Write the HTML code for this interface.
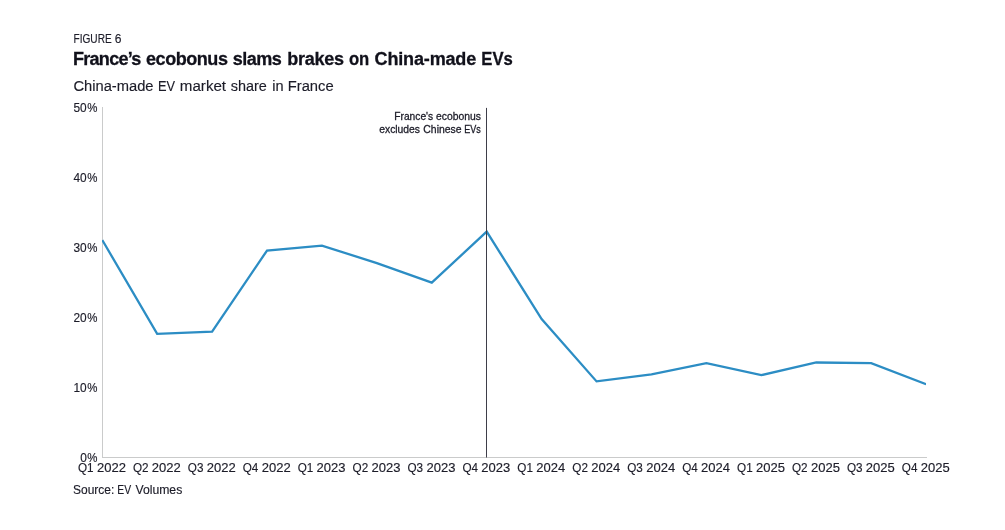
<!DOCTYPE html>
<html lang="en">
<head>
<meta charset="utf-8">
<title>France's ecobonus slams brakes on China-made EVs</title>
<style>
html,body{margin:0;padding:0;background:#fff;}
body{width:1005px;height:530px;overflow:hidden;position:relative;font-family:"Liberation Sans",sans-serif;}
svg{position:absolute;left:0;top:0;display:block;}
text{font-family:"Liberation Sans",sans-serif;fill:#1c1c28;stroke:#1c1c28;stroke-width:0.15px;}
text.a{stroke-width:0.3px;}
text.b{fill:#11111b;stroke:#11111b;stroke-width:0.3px;}
</style>
</head>
<body>
<svg width="1005" height="530" viewBox="0 0 1005 530">
<text y="43" font-size="12"><tspan x="73.47" textLength="38.23" lengthAdjust="spacingAndGlyphs">FIGURE</tspan> <tspan x="114.72" textLength="6.73" lengthAdjust="spacingAndGlyphs">6</tspan></text>
<text y="64.7" font-size="19.2" font-weight="bold" class="b"><tspan x="73.03" letter-spacing="-0.794" textLength="67.59" lengthAdjust="spacingAndGlyphs">France’s</tspan> <tspan x="146.07" letter-spacing="-0.513" textLength="81.38" lengthAdjust="spacingAndGlyphs">ecobonus</tspan> <tspan x="232.84" letter-spacing="-0.579" textLength="48.45" lengthAdjust="spacingAndGlyphs">slams</tspan> <tspan x="287.27" letter-spacing="-0.317" textLength="56.41" lengthAdjust="spacingAndGlyphs">brakes</tspan> <tspan x="348.89" textLength="20.39" lengthAdjust="spacingAndGlyphs">on</tspan> <tspan x="374.59" letter-spacing="-0.194" textLength="101.47" lengthAdjust="spacingAndGlyphs">China-made</tspan> <tspan x="481.36" textLength="31.52" lengthAdjust="spacingAndGlyphs">EVs</tspan></text>
<text y="91.0" font-size="15.5"><tspan x="73.42" textLength="80.14" lengthAdjust="spacingAndGlyphs">China-made</tspan> <tspan x="157.93" textLength="17.07" lengthAdjust="spacingAndGlyphs">EV</tspan> <tspan x="179.85" textLength="46.23" lengthAdjust="spacingAndGlyphs">market</tspan> <tspan x="230.85" letter-spacing="-0.016" textLength="35.98" lengthAdjust="spacingAndGlyphs">share</tspan> <tspan x="272.28" textLength="11.36" lengthAdjust="spacingAndGlyphs">in</tspan> <tspan x="287.78" textLength="45.88" lengthAdjust="spacingAndGlyphs">France</tspan></text>
<line x1="102.5" y1="107" x2="102.5" y2="458" stroke="#cacbcb" stroke-width="1"/>
<line x1="102" y1="457.5" x2="927" y2="457.5" stroke="#cacbcb" stroke-width="1"/>
<text y="461.9" font-size="12"><tspan x="80.14" textLength="6.61" lengthAdjust="spacingAndGlyphs">0</tspan><tspan x="87.24" textLength="10.18" lengthAdjust="spacingAndGlyphs">%</tspan></text>
<text y="391.9" font-size="12"><tspan x="73.53" textLength="13.22" lengthAdjust="spacingAndGlyphs">10</tspan><tspan x="87.24" textLength="10.18" lengthAdjust="spacingAndGlyphs">%</tspan></text>
<text y="321.9" font-size="12"><tspan x="73.53" textLength="13.22" lengthAdjust="spacingAndGlyphs">20</tspan><tspan x="87.24" textLength="10.18" lengthAdjust="spacingAndGlyphs">%</tspan></text>
<text y="251.9" font-size="12"><tspan x="73.53" textLength="13.22" lengthAdjust="spacingAndGlyphs">30</tspan><tspan x="87.24" textLength="10.18" lengthAdjust="spacingAndGlyphs">%</tspan></text>
<text y="181.9" font-size="12"><tspan x="73.53" textLength="13.22" lengthAdjust="spacingAndGlyphs">40</tspan><tspan x="87.24" textLength="10.18" lengthAdjust="spacingAndGlyphs">%</tspan></text>
<text y="111.9" font-size="12"><tspan x="73.53" textLength="13.22" lengthAdjust="spacingAndGlyphs">50</tspan><tspan x="87.24" textLength="10.18" lengthAdjust="spacingAndGlyphs">%</tspan></text>
<text y="472.2" font-size="12"><tspan x="77.98" textLength="15.63" lengthAdjust="spacingAndGlyphs">Q1</tspan> <tspan x="96.93" textLength="28.98" lengthAdjust="spacingAndGlyphs">2022</tspan></text>
<text y="472.2" font-size="12"><tspan x="132.91" textLength="15.63" lengthAdjust="spacingAndGlyphs">Q2</tspan> <tspan x="151.85" textLength="28.98" lengthAdjust="spacingAndGlyphs">2022</tspan></text>
<text y="472.2" font-size="12"><tspan x="187.83" textLength="15.63" lengthAdjust="spacingAndGlyphs">Q3</tspan> <tspan x="206.78" textLength="28.98" lengthAdjust="spacingAndGlyphs">2022</tspan></text>
<text y="472.2" font-size="12"><tspan x="242.75" textLength="15.63" lengthAdjust="spacingAndGlyphs">Q4</tspan> <tspan x="261.70" textLength="28.98" lengthAdjust="spacingAndGlyphs">2022</tspan></text>
<text y="472.2" font-size="12"><tspan x="297.68" textLength="15.63" lengthAdjust="spacingAndGlyphs">Q1</tspan> <tspan x="316.62" textLength="28.98" lengthAdjust="spacingAndGlyphs">2023</tspan></text>
<text y="472.2" font-size="12"><tspan x="352.60" textLength="15.63" lengthAdjust="spacingAndGlyphs">Q2</tspan> <tspan x="371.55" textLength="28.98" lengthAdjust="spacingAndGlyphs">2023</tspan></text>
<text y="472.2" font-size="12"><tspan x="407.52" textLength="15.63" lengthAdjust="spacingAndGlyphs">Q3</tspan> <tspan x="426.47" textLength="28.98" lengthAdjust="spacingAndGlyphs">2023</tspan></text>
<text y="472.2" font-size="12"><tspan x="462.45" textLength="15.63" lengthAdjust="spacingAndGlyphs">Q4</tspan> <tspan x="481.39" textLength="28.98" lengthAdjust="spacingAndGlyphs">2023</tspan></text>
<text y="472.2" font-size="12"><tspan x="517.37" textLength="15.63" lengthAdjust="spacingAndGlyphs">Q1</tspan> <tspan x="536.32" textLength="28.98" lengthAdjust="spacingAndGlyphs">2024</tspan></text>
<text y="472.2" font-size="12"><tspan x="572.29" textLength="15.63" lengthAdjust="spacingAndGlyphs">Q2</tspan> <tspan x="591.24" textLength="28.98" lengthAdjust="spacingAndGlyphs">2024</tspan></text>
<text y="472.2" font-size="12"><tspan x="627.22" textLength="15.63" lengthAdjust="spacingAndGlyphs">Q3</tspan> <tspan x="646.16" textLength="28.98" lengthAdjust="spacingAndGlyphs">2024</tspan></text>
<text y="472.2" font-size="12"><tspan x="682.14" textLength="15.63" lengthAdjust="spacingAndGlyphs">Q4</tspan> <tspan x="701.09" textLength="28.98" lengthAdjust="spacingAndGlyphs">2024</tspan></text>
<text y="472.2" font-size="12"><tspan x="737.06" textLength="15.63" lengthAdjust="spacingAndGlyphs">Q1</tspan> <tspan x="756.01" textLength="28.98" lengthAdjust="spacingAndGlyphs">2025</tspan></text>
<text y="472.2" font-size="12"><tspan x="791.99" textLength="15.63" lengthAdjust="spacingAndGlyphs">Q2</tspan> <tspan x="810.93" textLength="28.98" lengthAdjust="spacingAndGlyphs">2025</tspan></text>
<text y="472.2" font-size="12"><tspan x="846.91" textLength="15.63" lengthAdjust="spacingAndGlyphs">Q3</tspan> <tspan x="865.86" textLength="28.98" lengthAdjust="spacingAndGlyphs">2025</tspan></text>
<text y="472.2" font-size="12"><tspan x="901.83" textLength="15.63" lengthAdjust="spacingAndGlyphs">Q4</tspan> <tspan x="920.78" textLength="28.98" lengthAdjust="spacingAndGlyphs">2025</tspan></text>
<clipPath id="plot"><rect x="102" y="100" width="824" height="358"/></clipPath>
<polyline points="102.25,240.00 157.17,333.80 212.10,331.70 267.02,250.50 321.94,245.60 376.87,263.10 431.79,282.70 486.71,231.60 541.64,319.10 596.56,381.40 651.48,374.40 706.41,363.20 761.33,375.10 816.25,362.50 871.18,363.20 926.10,384.20" fill="none" stroke="#2c8dc4" stroke-width="2.3" stroke-linejoin="miter" clip-path="url(#plot)"/>
<line x1="486.5" y1="107.9" x2="486.5" y2="457.5" stroke="#3e3e49" stroke-width="1"/>
<text y="120" font-size="11.3" class="a"><tspan x="394.28" textLength="38.93" lengthAdjust="spacingAndGlyphs">France's</tspan> <tspan x="435.93" textLength="44.99" lengthAdjust="spacingAndGlyphs">ecobonus</tspan></text>
<text y="133" font-size="11.3" class="a"><tspan x="379.23" textLength="40.79" lengthAdjust="spacingAndGlyphs">excludes</tspan> <tspan x="423.34" textLength="38.31" lengthAdjust="spacingAndGlyphs">Chinese</tspan> <tspan x="464.28" textLength="16.60" lengthAdjust="spacingAndGlyphs">EVs</tspan></text>
<text y="494.1" font-size="12"><tspan x="73.03" textLength="41.28" lengthAdjust="spacingAndGlyphs">Source:</tspan> <tspan x="117.35" textLength="13.83" lengthAdjust="spacingAndGlyphs">EV</tspan> <tspan x="135.42" textLength="46.86" lengthAdjust="spacingAndGlyphs">Volumes</tspan></text>
</svg>
</body>
</html>
